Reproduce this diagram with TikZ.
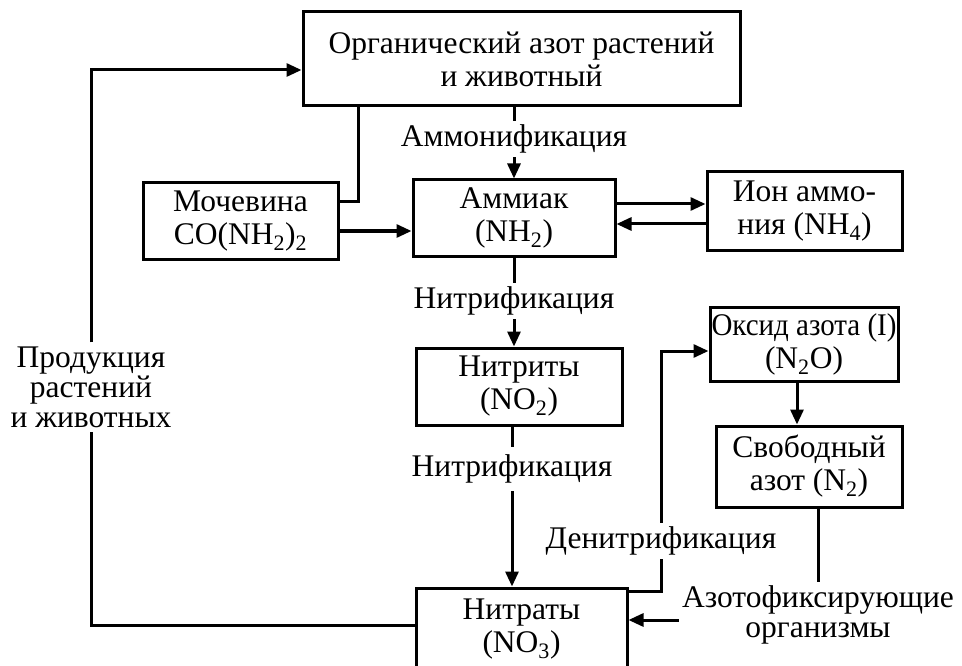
\documentclass[tikz,border=0pt]{standalone}
\usepackage{fontspec}
\usepackage{graphicx}
\setmainfont{Liberation Serif}
\usetikzlibrary{arrows.meta,calc}
\newcommand{\sbs}[1]{\textsubscript{#1}}
\begin{document}
\begin{tikzpicture}[x=1pt,y=-1pt,
  box/.style={draw,line width=3pt,inner sep=0pt,align=center,
    font=\fontsize{31.5}{33}\selectfont},
  lbl/.style={fill=white,inner xsep=3pt,inner ysep=4pt,align=center,
    font=\fontsize{31.5}{33}\selectfont},
  con/.style={line width=3pt},
  arr/.style={con,-{Triangle[length=15pt,width=13pt]}}]
\useasboundingbox (0,0) rectangle (962,666);
\clip (0,0) rectangle (962,666);

% boxes
\node[box,minimum width=437pt,minimum height=94pt] (org) at (521.5,59)
  {Органический азот растений\\и животный};
\node[box,minimum width=195pt,minimum height=76pt] (urea) at (240.5,221)
  {Мочевина\\CO(NH\sbs{2})\sbs{2}};
\node[box,minimum width=202pt,minimum height=76pt] (amm) at (514,218)
  {Аммиак\\(NH\sbs{2})};
\node[box,minimum width=195pt,minimum height=78pt] (ion) at (804.5,211)
  {Ион аммо-\\ния (NH\sbs{4})};
\node[box,minimum width=206pt,minimum height=77pt] (nitri) at (519,386.5)
  {Нитриты\\(NO\sbs{2})};
\node[box,minimum width=188pt,minimum height=74pt] (oxide) at (804,344)
  {\scalebox{0.92}[1]{Оксид азота (I)}\\(N\sbs{2}O)};
\node[box,minimum width=186pt,minimum height=81pt] (freen) at (809,466.5)
  {Свободный\\азот (N\sbs{2})};
\node[box,minimum width=211pt,minimum height=82pt] (nitra) at (521.5,629)
  {Нитраты\\(NO\sbs{3})};

% labels
\node[lbl] (ammon) at (514,139) {Аммонификация};
\node[lbl] (nif1) at (514,301) {Нитрификация};
\node[lbl,inner ysep=8pt] (nif2) at (512,469) {Нитрификация};
\node[lbl] (denit) at (661,541) {Денитрификация};
\node[lbl,font=\fontsize{31.5}{30}\selectfont] (azot) at (818,615)
  {Азотофиксирующие\\организмы};
\node[lbl,font=\fontsize{31.5}{30}\selectfont] (prod) at (91,387)
  {Продукция\\растений\\и животных};

% helper points
\coordinate (uup) at ($(urea.east)+(0,-19)$);
\coordinate (orgd) at ($(org.south west)+(57,0)$);
\coordinate (aw) at ($(azot.west)+(0,5)$);
\coordinate (nw) at ($(nitra.west)+(0,-4)$);
\coordinate (ne) at ($(nitra.north east)+(0,5)$);

% connectors
\draw[con] (amm.north |- org.south) -- (ammon.north);
\draw[arr] (ammon.south) -- (amm.north);
\draw[con] (amm.south) -- (nif1.north);
\draw[arr] (nif1.south) -- (nif1.south |- nitri.north);
\draw[con] (nif2.north |- nitri.south) -- (nif2.north);
\draw[arr] (nif2.south) -- (nif2.south |- nitra.north);

\draw[con] (orgd) |- (uup);
\draw[arr] ($(urea.east)+(0,10)$) -- ($(amm.west)+(0,13)$);

\draw[arr] ($(amm.east)+(0,-14)$) -- ($(ion.west)+(0,-7)$);
\draw[arr] ($(ion.west)+(0,13)$) -- ($(amm.east)+(0,6)$);

\draw[con] (ne) -| (denit.south);
\draw[arr] (denit.north) |- ($(oxide.west)+(0,7)$);
\draw[arr] ($(oxide.south)+(-7,0)$) -- ($(freen.north)+(-12,0)$);
\draw[con] ($(freen.south)+(9,0)$) -- (azot.north);
\draw[arr] (aw) -- (aw -| nitra.east);

\draw[con] (nw) -| (prod.south);
\draw[arr] (prod.north) |- ($(org.west)+(0,11)$);
\end{tikzpicture}
\end{document}
